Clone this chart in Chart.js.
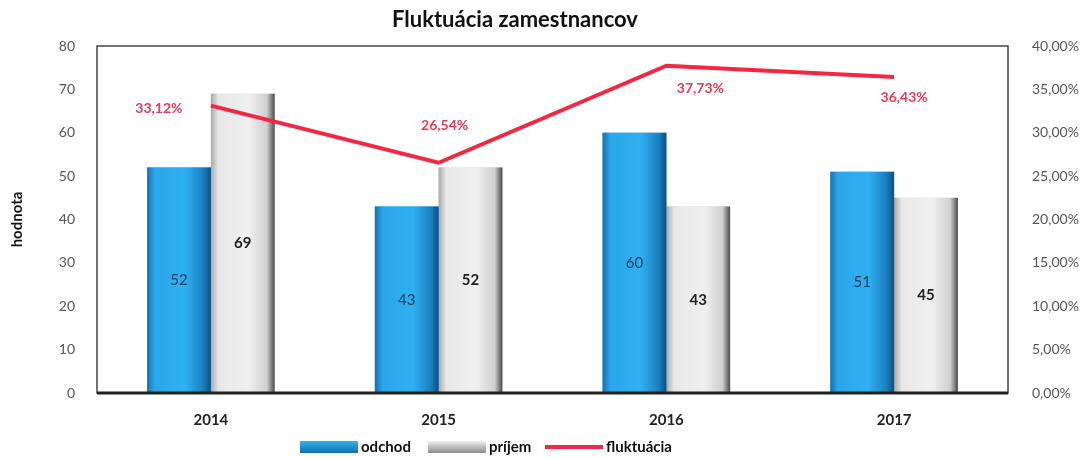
<!DOCTYPE html>
<html>
<head>
<meta charset="utf-8">
<script src="https://cdn.jsdelivr.net/npm/chart.js@4/dist/chart.umd.min.js"></script>
<style>
  html, body { margin: 0; padding: 0; background: #fff; }
  #wrap { width: 1081px; height: 458px; }
</style>
</head>
<body>
<div id="wrap"><canvas id="fluktChart" width="1081" height="458"></canvas></div>
<script>
const years = ['2014', '2015', '2016', '2017'];
const odchod = [52, 43, 60, 51];
const prijem = [69, 52, 43, 45];
const fluktuacia = [0.3312, 0.2654, 0.3773, 0.3643];
const seriesNames = ['odchod', 'príjem', 'fluktuácia'];
const chartTitle = 'Fluktuácia zamestnancov';

const FONT = 'Lato, "Open Sans", sans-serif';

function pct(v) {
    return (v * 100).toFixed(2).replace('.', ',') + '%';
}

// Frame around the plot area
const frame = {
    id: 'frame',
    beforeDatasetsDraw(chart) {
        const { ctx, chartArea: a } = chart;
        ctx.save();
        ctx.strokeStyle = '#444';
        ctx.lineWidth = 1.5;
        ctx.strokeRect(a.left, a.top, a.right - a.left, a.bottom - a.top);
        ctx.restore();
    }
};

// Horizontal gradients on the bars, for the 3D look of the original
const shade = {
    id: 'shade',
    afterDatasetDraw(chart, args) {
        const stops = {
            0: ['#1570ad', '#2ba6ea', '#2fb0f2', '#1a7fbf', '#0f4f80'],
            1: ['#a8a8a8', '#e8e8e8', '#efefef', '#cfcfcf', '#4a4a4a']
        }[args.index];
        if (!stops) return;
        const { ctx } = chart;
        ctx.save();
        args.meta.data.forEach((bar) => {
            const l = bar.x - bar.width / 2;
            const r = bar.x + bar.width / 2;
            const g = ctx.createLinearGradient(l, 0, r, 0);
            g.addColorStop(0, stops[0]);
            g.addColorStop(0.12, stops[1]);
            g.addColorStop(0.6, stops[2]);
            g.addColorStop(0.88, stops[3]);
            g.addColorStop(1, stops[4]);
            ctx.fillStyle = g;
            ctx.fillRect(l, bar.y, r - l, bar.base - bar.y);
        });
        ctx.restore();
    },
    afterDatasetsDraw(chart) {
        const { ctx, chartArea: a } = chart;
        ctx.save();
        ctx.lineWidth = 3;
        ctx.strokeStyle = '#222';
        ctx.beginPath();
        ctx.moveTo(a.left, a.bottom);
        ctx.lineTo(a.right, a.bottom);
        ctx.stroke();
        ctx.restore();
    }
};

// Value labels: inside the bars and next to the line points
const labels = {
    id: 'labels',
    afterDatasetsDraw(chart) {
        const { ctx } = chart;
        ctx.save();
        ctx.textAlign = 'center';
        ctx.textBaseline = 'middle';

        chart.getDatasetMeta(0).data.forEach((bar, i) => {
            ctx.font = '15px ' + FONT;
            ctx.fillStyle = '#1d3c5a';
            ctx.fillText(odchod[i], bar.x, (bar.y + bar.base) / 2);
        });
        chart.getDatasetMeta(1).data.forEach((bar, i) => {
            ctx.font = 'bold 15px ' + FONT;
            ctx.fillStyle = '#222';
            ctx.fillText(prijem[i], bar.x, (bar.y + bar.base) / 2);
        });

        const offs = [[-52, 3], [6, -37], [34, 23], [10, 21]];
        chart.getDatasetMeta(2).data.forEach((pt, i) => {
            ctx.font = 'bold 14px ' + FONT;
            ctx.fillStyle = '#e83a52';
            ctx.fillText(pct(fluktuacia[i]), pt.x + offs[i][0], pt.y + offs[i][1]);
        });
        ctx.restore();
    }
};

// Title and legend drawn by hand, the original is not centred on the canvas
const deco = {
    id: 'deco',
    afterDraw(chart) {
        const { ctx } = chart;
        ctx.save();
        ctx.font = 'bold 22px ' + FONT;
        ctx.fillStyle = '#111';
        ctx.textAlign = 'center';
        ctx.textBaseline = 'middle';
        ctx.fillText(chartTitle, 515, 20);

        const y = 447;
        const starts = [300, 428, 545];
        ctx.font = 'bold 15px ' + FONT;
        ctx.textAlign = 'left';
        seriesNames.forEach((name, i) => {
            const x = starts[i];
            if (i === 2) {
                ctx.strokeStyle = '#f5263f';
                ctx.lineWidth = 4;
                ctx.beginPath();
                ctx.moveTo(x, y);
                ctx.lineTo(x + 58, y);
                ctx.stroke();
            } else {
                const g = ctx.createLinearGradient(0, y - 6, 0, y + 6);
                if (i === 0) {
                    g.addColorStop(0, '#2fb0f2');
                    g.addColorStop(1, '#1570ad');
                } else {
                    g.addColorStop(0, '#f0f0f0');
                    g.addColorStop(1, '#8c8c8c');
                }
                ctx.fillStyle = g;
                ctx.fillRect(x, y - 6, 58, 12);
            }
            ctx.fillStyle = '#111';
            ctx.fillText(name, x + 61, y);
        });
        ctx.restore();
    }
};

new Chart(document.getElementById('fluktChart'), {
    data: {
        labels: years,
        datasets: [
            {
                type: 'bar',
                label: seriesNames[0],
                data: odchod,
                backgroundColor: '#2ba3e3',
                borderWidth: 0,
                categoryPercentage: 0.56,
                barPercentage: 1,
                yAxisID: 'y',
                order: 2
            },
            {
                type: 'bar',
                label: seriesNames[1],
                data: prijem,
                backgroundColor: '#d4d4d4',
                borderWidth: 0,
                categoryPercentage: 0.56,
                barPercentage: 1,
                yAxisID: 'y',
                order: 2
            },
            {
                type: 'line',
                label: seriesNames[2],
                data: fluktuacia,
                borderColor: '#f5263f',
                backgroundColor: '#f5263f',
                borderWidth: 4,
                pointRadius: 0,
                tension: 0,
                yAxisID: 'y1',
                order: 1
            }
        ]
    },
    options: {
        responsive: false,
        animation: false,
        layout: { padding: { left: 0, right: 0, top: 46, bottom: 27 } },
        scales: {
            x: {
                grid: { display: false },
                border: { display: false },
                ticks: {
                    color: '#222',
                    padding: 10,
                    font: { family: FONT, size: 15, weight: 'bold' }
                },
                afterFit(scale) { scale.height = 38; }
            },
            y: {
                position: 'left',
                min: 0,
                max: 80,
                grid: { display: false },
                border: { display: false },
                ticks: {
                    stepSize: 10,
                    color: '#555',
                    padding: 14,
                    font: { family: FONT, size: 14 }
                },
                title: {
                    display: true,
                    text: 'hodnota',
                    color: '#111',
                    padding: { top: 8, bottom: 0 },
                    font: { family: FONT, size: 15, weight: 'bold' }
                },
                afterFit(scale) { scale.width = 97; }
            },
            y1: {
                position: 'right',
                min: 0,
                max: 0.4,
                grid: { display: false },
                border: { display: false },
                ticks: {
                    stepSize: 0.05,
                    color: '#555',
                    padding: 16,
                    font: { family: FONT, size: 14 },
                    callback: (v) => pct(v)
                },
                afterFit(scale) { scale.width = 73; }
            }
        },
        plugins: {
            title: { display: false },
            legend: { display: false },
            tooltip: { enabled: false }
        }
    },
    plugins: [frame, shade, labels, deco]
});
</script>
</body>
</html>
